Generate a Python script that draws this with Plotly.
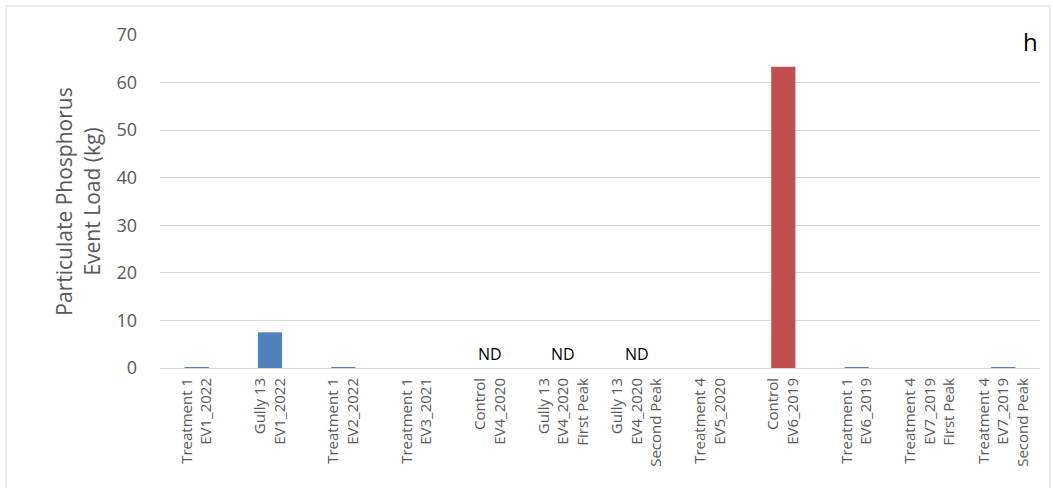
import plotly.graph_objects as go

categories = [
    "Treatment 1<br>EV1_2022",
    "Gully 13<br>EV1_2022",
    "Treatment 1<br>EV2_2022",
    "Treatment 1<br>EV3_2021",
    "Control<br>EV4_2020",
    "Gully 13<br>EV4_2020<br>First Peak",
    "Gully 13<br>EV4_2020<br>Second Peak",
    "Treatment 4<br>EV5_2020",
    "Control<br>EV6_2019",
    "Treatment 1<br>EV6_2019",
    "Treatment 4<br>EV7_2019<br>First Peak",
    "Treatment 4<br>EV7_2019<br>Second Peak",
]
values = [0.04, 7.5, 0.05, 0, 0, 0, 0, 0, 63.3, 0.08, 0, 0.05]
colors = ["#4F81BD"] * 8 + ["#C0504D"] + ["#4F81BD"] * 3
nd_categories = [categories[4], categories[5], categories[6]]
y_ticks = [0, 10, 20, 30, 40, 50, 60, 70]

FONT = "Open Sans, Noto Sans, Liberation Sans, Arial"
W, H = 1053, 488
L, R, T, B = 160, 13, 35, 120
PW, PH = W - L - R, H - T - B

fig = go.Figure()
fig.add_trace(go.Bar(x=categories, y=values, marker_color=colors,
                     marker_line_width=0, width=0.33, opacity=1))

for c in nd_categories:
    fig.add_annotation(x=c, y=0, text="ND", showarrow=False, yanchor="bottom",
                       yshift=1, font=dict(size=16, color="black", family=FONT))

fig.add_annotation(xref="paper", yref="paper", x=(1030 - L) / PW, y=(H - B - 42) / PH,
                   text="h", showarrow=False, xanchor="center", yanchor="middle",
                   font=dict(size=24, color="black", family=FONT))

fig.add_shape(type="rect", xref="paper", yref="paper",
              x0=(6 - L) / PW, x1=(1050 - L) / PW,
              y0=(H - B - 495) / PH, y1=(H - B - 6) / PH,
              line=dict(color="#D9D9D9", width=1), layer="below")

fig.update_layout(
    width=W, height=H,
    margin=dict(l=L, r=R, t=T, b=B, autoexpand=False),
    plot_bgcolor="white", paper_bgcolor="white",
    showlegend=False,
    font=dict(family=FONT, color="#595959"),
)
fig.update_xaxes(tickangle=-90, tickfont=dict(size=15, color="#595959", family=FONT),
                 showgrid=False, showline=False, ticks="", automargin=False,
                 ticklabelstandoff=6)
fig.update_yaxes(range=[0, 70], tickvals=y_ticks, showgrid=True, gridcolor="#D9D9D9",
                 zeroline=True, zerolinecolor="#D9D9D9", zerolinewidth=1,
                 tickfont=dict(size=18, color="#595959", family=FONT), ticks="",
                 ticklabelstandoff=22, automargin=False,
                 title=dict(text="Particulate Phosphorus<br>Event Load (kg)",
                            font=dict(size=21, color="#595959", family=FONT), standoff=10))

fig.write_html("out.html", config={"displayModeBar": False},
               post_script="document.body.style.margin='0';document.body.style.overflow='hidden';")
